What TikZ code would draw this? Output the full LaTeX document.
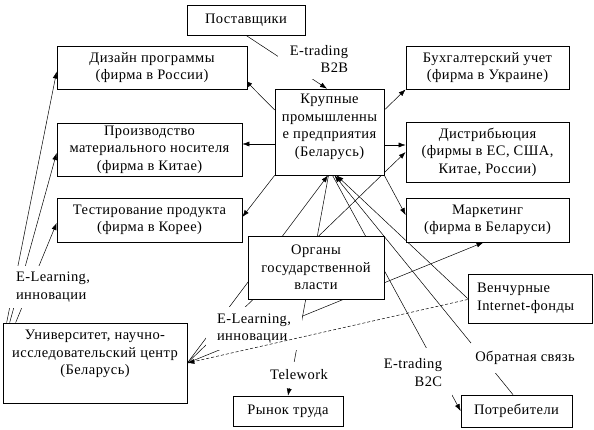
\documentclass[tikz,border=0pt]{standalone}
\usepackage{fontspec}
\setmainfont{Liberation Serif}[LetterSpace=3]
\usetikzlibrary{arrows.meta}
\pgfdeclarelayer{bg}
\pgfsetlayers{bg,main}
\begin{document}
\begin{tikzpicture}[x=1pt,y=-1pt,
  every node/.style={font=\fontsize{14.5pt}{17.5pt}\selectfont},
  box/.style={draw, fill=white, line width=0.7pt, inner sep=0pt, align=center},
  txt/.style={align=center, inner sep=0pt},
  lbl/.style={fill=white, inner sep=0pt, align=center},
  conn/.style={line width=0.5pt},
  arr/.style={conn, -{Latex[length=7pt,width=5pt]}},
  dasharr/.style={arr, dash pattern=on 3pt off 2pt}]
\useasboundingbox (0,0) rectangle (594,430);

% boxes
\node[box, minimum width=118pt, minimum height=30pt] (sup) at (246,20) {Поставщики};
\node[box, minimum width=190pt, minimum height=43pt] (des) at (152,67.5) {Дизайн программы\\(фирма в России)};
\node[box, minimum width=185pt, minimum height=53pt] (prod) at (149.5,149.5) {Производство\\материального носителя\\(фирма в Китае)};
\node[box, minimum width=185pt, minimum height=44pt] (test) at (149.5,220) {Тестирование продукта\\(фирма в Корее)};
\node[box, minimum width=109pt, minimum height=86pt] (big) at (329.5,132) {};
\node[txt] (bigtxt) at (329.5,127) {Крупные\\промышленны\\е предприятия\\(Беларусь)};
\node[box, minimum width=163pt, minimum height=43pt] (buh) at (487.5,67.5) {Бухгалтерский учет\\(фирма в Украине)};
\node[box, minimum width=163pt, minimum height=60pt] (dist) at (487.5,152) {Дистрибьюция\\(фирмы в ЕС, США,\\Китае, России)};
\node[box, minimum width=163pt, minimum height=44pt] (mark) at (487.5,220) {Маркетинг\\(фирма в Беларуси)};
\node[box, minimum width=136pt, minimum height=63pt] (org) at (316,267.5) {Органы\\государственной\\власти};
\node[box, minimum width=124pt, minimum height=49pt, text width=106pt, align=left] (ven) at (530,298.5) {Венчурные\\Internet-фонды};
\node[box, minimum width=184pt, minimum height=80pt] (univ) at (95,363) {};
\node[txt] (univtxt) at (95,354) {Университет, научно-\\исследовательский центр\\(Беларусь)};
\node[box, minimum width=110pt, minimum height=30pt] (rynok) at (288,411) {Рынок труда};
\node[box, minimum width=111pt, minimum height=32pt] (potr) at (516.5,411) {Потребители};

% connector labels (white, they hide the lines running under them)
\node[lbl, minimum width=82pt, minimum height=40pt, align=right] (b2b) at (319,59) {E-trading\\B2B};
\node[lbl, minimum width=88pt, minimum height=42pt, align=left] (el1) at (53,287) {E-Learning,\\инновации};
\node[lbl, minimum width=96pt, minimum height=43pt, align=left] (el2) at (254,328.5) {E-Learning,\\инновации};
\node[lbl, minimum width=60pt, minimum height=26pt] (tw) at (299,375) {Telework};
\node[lbl, minimum width=77pt, minimum height=49pt, align=right] (b2c) at (413,372.5) {E-trading\\B2C};
\node[lbl, minimum width=108pt, minimum height=30pt] (fb) at (525,358) {Обратная связь};

\begin{pgfonlayer}{bg}
\fill[white] (0,0) rectangle (594,430);
\draw[arr] (sup.south) -- ([xshift=-2.5pt]big.north);
\draw[arr] ([yshift=22pt]big.west) -- ([xshift=-2pt,yshift=9pt]des.south east);
\draw[arr] ([yshift=-12pt]big.west) -- ([yshift=-12pt]big.west -| prod.east);
\draw[arr] (big.south west) -- ([yshift=3pt]test.east);
\draw[arr] ([yshift=22pt]big.east) -- (buh.south west);
\draw[arr] ([yshift=-13pt]big.east) -- ([yshift=-13pt]big.east -| dist.west);
\draw[arr] (big.south east) -- ([yshift=5pt]mark.west);
\draw[arr] (univ.east) -- ([xshift=-1.5pt]big.south);
\draw[arr] (univ.east) -- (dist.west);
\draw[arr] (univ.east) -- ([xshift=-4pt]mark.south);
\draw[arr] (ven.west) -- ([xshift=7pt]big.south);
\draw[arr] ([xshift=-1pt]big.south) -- (rynok.north);
\draw[arr] ([xshift=3pt]big.south) -- (potr.west);
\draw[arr] ([xshift=-3.5pt]potr.north) -- ([xshift=5pt]big.south);
\draw[arr] ([xshift=4pt]univ.north west) -- ([yshift=-4pt]des.west);
\draw[arr] ([xshift=7pt]univ.north west) -- ([yshift=-3.5pt]prod.west);
\draw[arr] ([xshift=13pt]univ.north west) -- ([yshift=-3pt]test.west);
\end{pgfonlayer}
\draw[dasharr] ([yshift=-1pt]ven.west) -- (univ.east);
\end{tikzpicture}
\end{document}
